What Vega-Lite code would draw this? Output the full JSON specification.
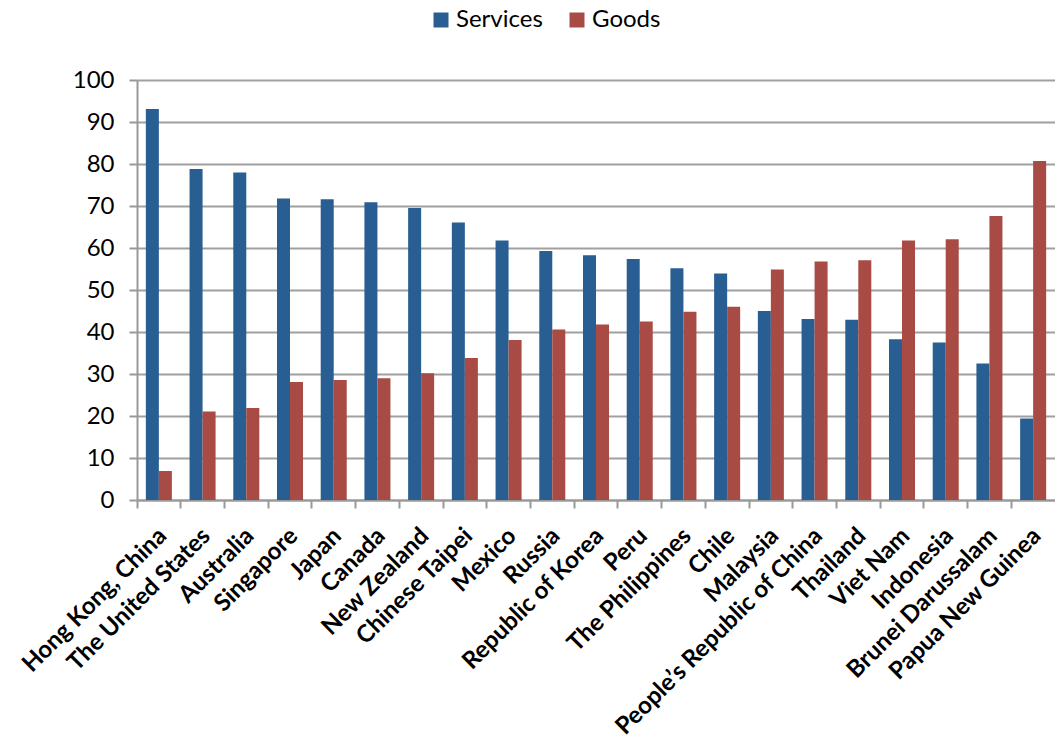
{
  "$schema": "https://vega.github.io/schema/vega-lite/v6.json",
  "width": 918,
  "height": 420,
  "autosize": {"type": "none"},
  "padding": {"left": 137, "top": 80, "right": 0, "bottom": 241},
  "background": "white",
  "config": {
    "view": {"stroke": null},
    "font": "Lato"
  },
  "data": {
    "values": [
      {"country": "Hong Kong, China", "type": "Services", "value": 93.1},
      {"country": "Hong Kong, China", "type": "Goods", "value": 6.9},
      {"country": "The United States", "type": "Services", "value": 78.8},
      {"country": "The United States", "type": "Goods", "value": 21.1},
      {"country": "Australia", "type": "Services", "value": 78.0},
      {"country": "Australia", "type": "Goods", "value": 21.9},
      {"country": "Singapore", "type": "Services", "value": 71.8},
      {"country": "Singapore", "type": "Goods", "value": 28.1},
      {"country": "Japan", "type": "Services", "value": 71.6},
      {"country": "Japan", "type": "Goods", "value": 28.6},
      {"country": "Canada", "type": "Services", "value": 70.9},
      {"country": "Canada", "type": "Goods", "value": 29.0},
      {"country": "New Zealand", "type": "Services", "value": 69.5},
      {"country": "New Zealand", "type": "Goods", "value": 30.2},
      {"country": "Chinese Taipei", "type": "Services", "value": 66.1},
      {"country": "Chinese Taipei", "type": "Goods", "value": 33.8},
      {"country": "Mexico", "type": "Services", "value": 61.8},
      {"country": "Mexico", "type": "Goods", "value": 38.1},
      {"country": "Russia", "type": "Services", "value": 59.3},
      {"country": "Russia", "type": "Goods", "value": 40.6},
      {"country": "Republic of Korea", "type": "Services", "value": 58.3},
      {"country": "Republic of Korea", "type": "Goods", "value": 41.8},
      {"country": "Peru", "type": "Services", "value": 57.4},
      {"country": "Peru", "type": "Goods", "value": 42.5},
      {"country": "The Philippines", "type": "Services", "value": 55.2},
      {"country": "The Philippines", "type": "Goods", "value": 44.8},
      {"country": "Chile", "type": "Services", "value": 53.9},
      {"country": "Chile", "type": "Goods", "value": 46.0},
      {"country": "Malaysia", "type": "Services", "value": 45.0},
      {"country": "Malaysia", "type": "Goods", "value": 54.9},
      {"country": "People’s Republic of China", "type": "Services", "value": 43.1},
      {"country": "People’s Republic of China", "type": "Goods", "value": 56.8},
      {"country": "Thailand", "type": "Services", "value": 42.9},
      {"country": "Thailand", "type": "Goods", "value": 57.1},
      {"country": "Viet Nam", "type": "Services", "value": 38.3},
      {"country": "Viet Nam", "type": "Goods", "value": 61.8},
      {"country": "Indonesia", "type": "Services", "value": 37.5},
      {"country": "Indonesia", "type": "Goods", "value": 62.1},
      {"country": "Brunei Darussalam", "type": "Services", "value": 32.5},
      {"country": "Brunei Darussalam", "type": "Goods", "value": 67.6},
      {"country": "Papua New Guinea", "type": "Services", "value": 19.4},
      {"country": "Papua New Guinea", "type": "Goods", "value": 80.7}
    ]
  },
  "mark": {"type": "bar"},
  "encoding": {
    "x": {
      "field": "country",
      "type": "nominal",
      "sort": null,
      "scale": {"paddingInner": 0, "paddingOuter": 0},
      "axis": {
        "title": null,
        "bandPosition": 0,
        "labelOffset": 4,
        "labelAngle": -45,
        "labelAlign": "right",
        "labelBaseline": "middle",
        "labelFont": "Lato",
        "labelFontSize": 24,
        "labelFontWeight": "bold",
        "labelColor": "black",
        "labelPadding": 24,
        "labelOverlap": false,
        "labelLimit": 500,
        "tickColor": "#999999",
        "tickSize": 8,
        "tickWidth": 2,
        "domainColor": "#999999",
        "domainWidth": 2,
        "grid": false
      }
    },
    "xOffset": {
      "field": "type",
      "type": "nominal",
      "sort": ["Services", "Goods"],
      "scale": {"paddingInner": 0, "paddingOuter": 0.68}
    },
    "y": {
      "field": "value",
      "type": "quantitative",
      "scale": {"domain": [0, 100], "nice": false},
      "axis": {
        "title": null,
        "values": [0, 10, 20, 30, 40, 50, 60, 70, 80, 90, 100],
        "labelFont": "Lato",
        "labelFontSize": 24,
        "labelColor": "black",
        "labelPadding": 15,
        "tickColor": "#999999",
        "tickSize": 8,
        "tickWidth": 2,
        "domainColor": "#999999",
        "domainWidth": 2,
        "grid": true,
        "gridColor": "#A0A0A0",
        "gridWidth": 2
      }
    },
    "color": {
      "field": "type",
      "type": "nominal",
      "sort": ["Services", "Goods"],
      "scale": {"domain": ["Services", "Goods"], "range": ["#285E91", "#A84B45"]},
      "legend": {
        "title": null,
        "orient": "none",
        "direction": "horizontal",
        "legendX": 292,
        "legendY": -72,
        "symbolType": "square",
        "symbolSize": 225,
        "symbolStrokeWidth": 0,
        "labelFont": "Lato",
        "labelFontSize": 24,
        "labelColor": "black",
        "labelOffset": 3,
        "columnPadding": 22,
        "padding": 0
      }
    }
  }
}
